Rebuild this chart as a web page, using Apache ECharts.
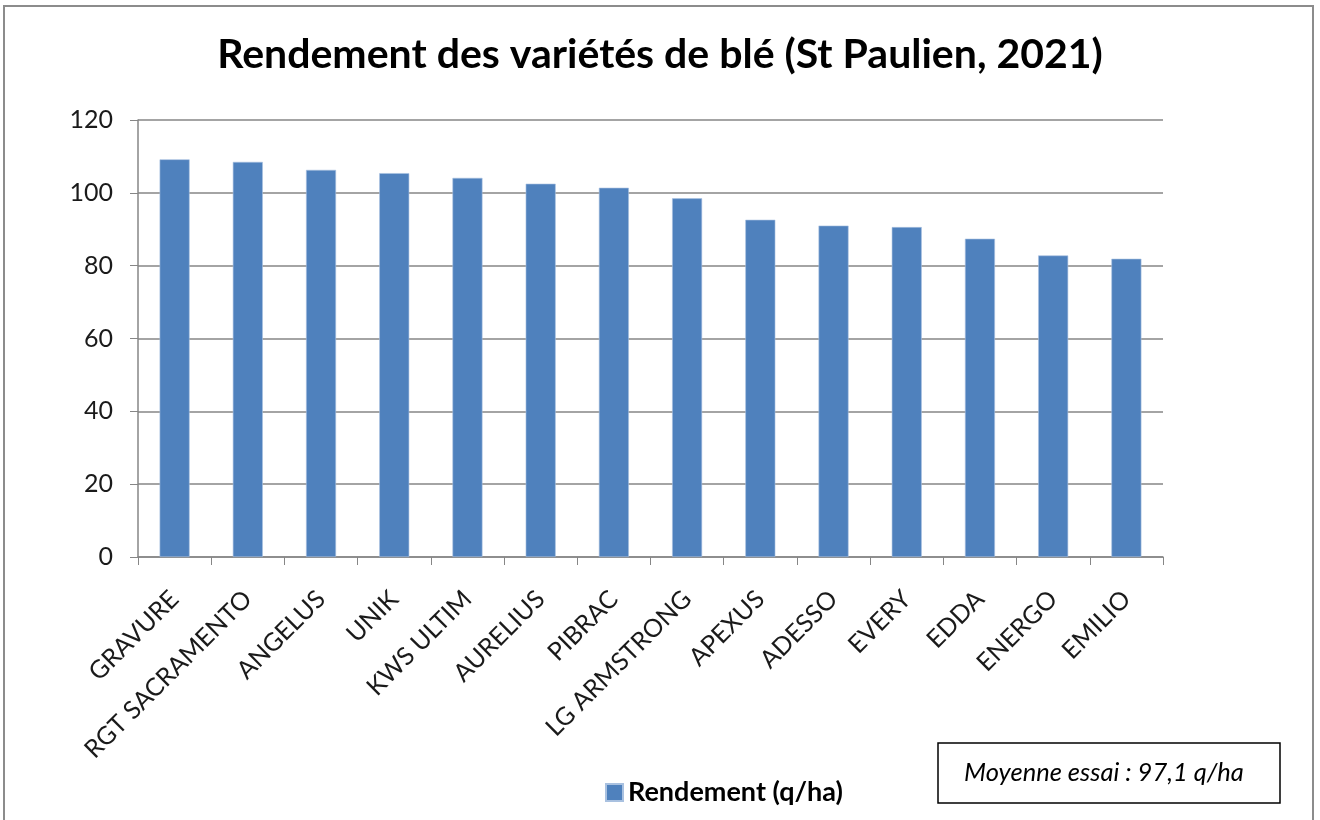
<!DOCTYPE html>
<html>
<head>
<meta charset="utf-8">
<script src="https://cdn.jsdelivr.net/npm/echarts@6/dist/echarts.min.js"></script>
<style>
  html, body { margin: 0; padding: 0; background: #fff; }
  #chart { width: 1320px; height: 820px; }
</style>
</head>
<body>
<div id="chart"></div>
<script>
// Variétés et rendements (q/ha)
const varietes = ['GRAVURE', 'RGT SACRAMENTO', 'ANGELUS', 'UNIK', 'KWS ULTIM', 'AURELIUS', 'PIBRAC',
    'LG ARMSTRONG', 'APEXUS', 'ADESSO', 'EVERY', 'EDDA', 'ENERGO', 'EMILIO'];
const rendements = [109.2, 108.5, 106.3, 105.4, 104.1, 102.5, 101.4, 98.5, 92.6, 91.0, 90.6, 87.4, 82.8, 81.9];
const yTicks = [0, 20, 40, 60, 80, 100, 120];
const moyenne = 'Moyenne essai : 97,1 q/ha';

const font = 'Lato, "Open Sans", sans-serif';
const chart = echarts.init(document.getElementById('chart'));

chart.setOption({
    backgroundColor: '#fff',
    animation: false,
    title: {
        text: 'Rendement des variétés de blé (St Paulien, 2021)',
        left: 'center', top: 29,
        textStyle: { fontFamily: font, fontSize: 41, fontWeight: 'bold', color: '#000' }
    },
    legend: {
        data: ['Rendement (q/ha)'],
        left: 600, top: 774,
        itemWidth: 17, itemHeight: 17, icon: 'rect', itemGap: 6,
        textStyle: { fontFamily: font, fontSize: 27, fontWeight: 'bold', color: '#000' }
    },
    grid: { left: 138, right: 157, top: 120, height: 437 },
    xAxis: {
        type: 'category', data: varietes,
        axisLine: { lineStyle: { color: '#868686', width: 1.5 } },
        axisTick: { show: true, length: 8, alignWithLabel: false, lineStyle: { color: '#868686' } },
        axisLabel: { rotate: 45, interval: 0, margin: 38, fontFamily: font, fontSize: 25, color: '#1a1a1a' }
    },
    yAxis: {
        type: 'value', min: yTicks[0], max: yTicks[yTicks.length - 1], interval: 20,
        axisLine: { show: true, lineStyle: { color: '#868686', width: 1.5 } },
        axisTick: { show: true, length: 8, lineStyle: { color: '#868686' } },
        axisLabel: { margin: 25, fontFamily: font, fontSize: 25, color: '#1a1a1a' },
        splitLine: { lineStyle: { color: '#868686', width: 1.5 } }
    },
    series: [{
        name: 'Rendement (q/ha)', type: 'bar', data: rendements,
        barWidth: 30,
        itemStyle: { color: '#4F81BD', borderColor: '#a9c1e0', borderWidth: 0.6 }
    }],
    graphic: [
        { type: 'rect', shape: { x: 4, y: 6, width: 1309, height: 830 }, style: { fill: 'none', stroke: '#8c8c8c', lineWidth: 2 } },
        { type: 'rect', shape: { x: 938, y: 743, width: 342, height: 60 }, style: { fill: '#fff', stroke: '#000', lineWidth: 1.5 } },
        { type: 'text', x: 1104, y: 773, style: { text: moyenne, align: 'center', verticalAlign: 'middle',
            font: 'italic 25.5px ' + font, fill: '#000' } }
    ]
});
</script>
</body>
</html>
